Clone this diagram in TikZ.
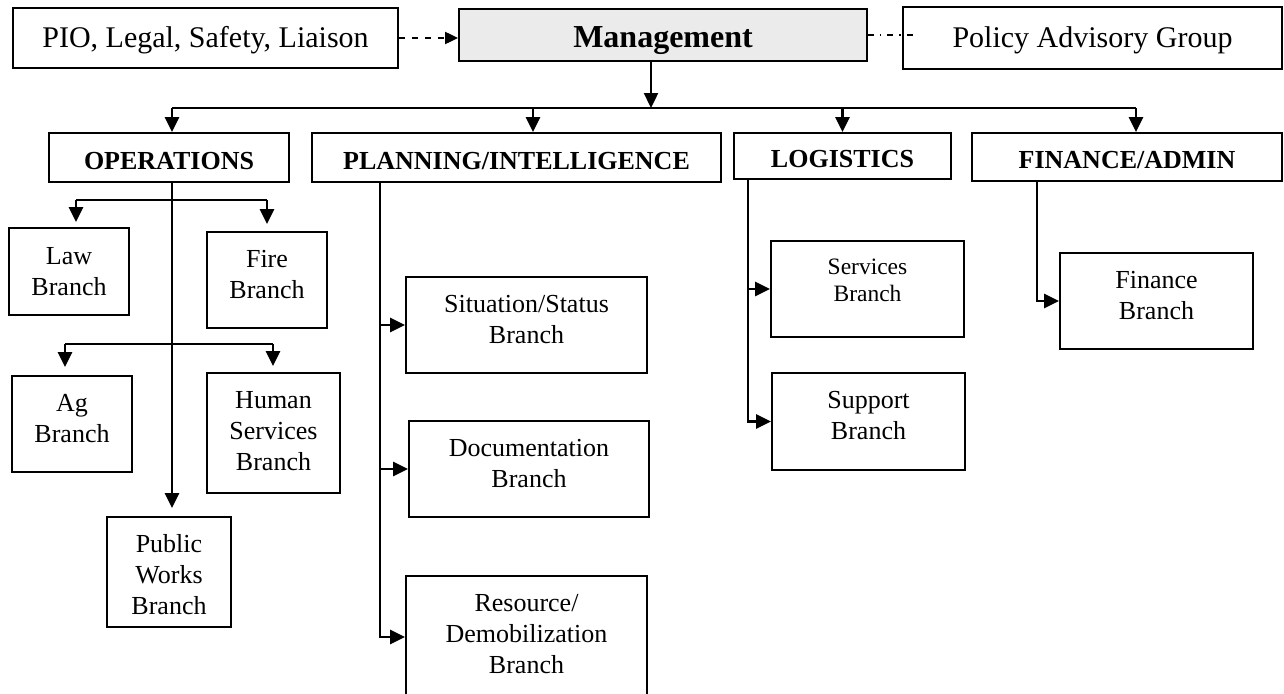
\documentclass[tikz,border=0pt]{standalone}
\usepackage{fontspec}
\setmainfont{Liberation Serif}
\usetikzlibrary{arrows.meta}
\tikzset{
  box/.style={draw, line width=1.8pt, inner sep=0pt, align=center, font=\fontsize{26}{31}\selectfont},
  headbox/.style={box, font=\fontsize{26}{31}\selectfont\bfseries, text height=23pt, text depth=0pt},
  topbox/.style={box, font=\fontsize{30}{34}\selectfont, text height=20pt, text depth=0pt},
  txt/.style={inner sep=0pt, align=center, font=\fontsize{26}{31}\selectfont},
  smalltxt/.style={txt, font=\fontsize{23.5}{27}\selectfont},
  conn/.style={line width=2.4pt},
  arr/.style={conn, -{Triangle[width=14pt,length=15pt]}},
  dasharr/.style={line width=2pt, dash pattern=on 6pt off 7pt, -{Triangle[width=12pt,length=13pt]}},
  dashdot/.style={line width=1.2pt, dash pattern=on 6pt off 6pt on 1.5pt off 6pt},
}
\begin{document}
\begin{tikzpicture}[x=1pt,y=-1pt]
\useasboundingbox (0,0) rectangle (1284,693);
\clip (0,0) rectangle (1284,693);
% top row
\node[topbox, minimum width=385pt, minimum height=60pt] (pio) at (205.5,38) {PIO, Legal, Safety, Liaison};
\node[box, fill=black!8, minimum width=408pt, minimum height=52pt, font=\fontsize{32}{36}\selectfont\bfseries, text height=26pt, text depth=0pt] (mgmt) at (663,35) {Management};
\node[topbox, minimum width=379pt, minimum height=62pt] (pol) at (1092.5,38) {Policy Advisory Group};
% section heads
\node[headbox, minimum width=240pt, minimum height=49pt] (ops) at (169,157.5) {OPERATIONS};
\node[headbox, minimum width=409pt, minimum height=49pt] (plan) at (516.5,157.5) {PLANNING/INTELLIGENCE};
\node[headbox, minimum width=217pt, minimum height=46pt] (log) at (842.5,156) {LOGISTICS};
\node[headbox, minimum width=310pt, minimum height=48pt] (fin) at (1127,157) {FINANCE/ADMIN};
% operations branches
\node[box, minimum width=120pt, minimum height=87pt] (law) at (69,271.5) {};
\node[box, minimum width=120pt, minimum height=96pt] (fire) at (267,280) {};
\node[box, minimum width=120pt, minimum height=96pt] (ag) at (72,424) {};
\node[box, minimum width=133pt, minimum height=120pt] (hum) at (273.5,433) {};
\node[box, minimum width=124pt, minimum height=110pt] (pw) at (169,572) {};
% planning branches
\node[box, minimum width=241pt, minimum height=96pt] (sit) at (526.5,325) {};
\node[box, minimum width=240pt, minimum height=96pt] (doc) at (529,469) {};
\node[box, minimum width=241pt, minimum height=122pt] (res) at (526.5,637) {};
% logistics branches
\node[box, minimum width=193pt, minimum height=96pt] (serv) at (867.5,289) {};
\node[box, minimum width=193pt, minimum height=97pt] (sup) at (868.5,421.5) {};
% finance branch
\node[box, minimum width=193pt, minimum height=96pt] (finb) at (1156.5,301) {};

% box texts
\node[txt] (law-t) at (law.center) {Law\\Branch};
\node[txt] (fire-t) at ([yshift=5pt]fire.center) {Fire\\Branch};
\node[txt] (ag-t) at ([yshift=5pt]ag.center) {Ag\\Branch};
\node[txt] (hum-t) at ([yshift=2pt]hum.center) {Human\\Services\\Branch};
\node[txt] (pw-t) at ([yshift=-3pt]pw.center) {Public\\Works\\Branch};
\node[txt] (sit-t) at ([yshift=5pt]sit.center) {Situation/Status\\Branch};
\node[txt] (doc-t) at ([yshift=5pt]doc.center) {Documentation\\Branch};
\node[txt] (res-t) at ([yshift=3pt]res.center) {Resource/\\Demobilization\\Branch};
\node[smalltxt] (serv-t) at ([yshift=9pt]serv.center) {Services\\Branch};
\node[txt] (sup-t) at ([yshift=6pt]sup.center) {Support\\Branch};
\node[txt] (finb-t) at ([yshift=5pt]finb.center) {Finance\\Branch};

% top connectors
\draw[dasharr] (pio.east) -- (pio.east -| mgmt.west);
\draw[dashdot] (mgmt.east) -- ([xshift=14pt]mgmt.east -| pol.west);
\coordinate (bus) at (651,108);
\coordinate (busL) at (172,108);
\coordinate (busR) at (1136,108);
\coordinate (busP) at (533,108);
\draw[arr] (mgmt.south -| bus) -- (bus);
\draw[conn] (busL) -- (busR);
\draw[arr] (busL) -- (busL |- ops.north);
\draw[arr] (busP) -- (busP |- plan.north);
\draw[arr] (log.north |- bus) -- (log.north);
\draw[arr] (busR) -- (busR |- fin.north);

% operations
\coordinate (opx) at (172,182);
\draw[arr, shorten >=8pt] (opx) -- (opx |- pw.north);
\coordinate (s1l) at (76,200);
\coordinate (s1r) at (267,200);
\draw[conn] (s1l) -- (s1r);
\draw[arr, shorten >=5pt] (s1l) -- (s1l |- law.north);
\draw[arr, shorten >=7pt] (s1r) -- (s1r |- fire.north);
\coordinate (s2l) at (65,344);
\coordinate (s2r) at (273,344);
\draw[conn] (s2l) -- (s2r);
\draw[arr, shorten >=8pt] (s2l) -- (s2l |- ag.north);
\draw[arr, shorten >=6pt] (s2r) -- (s2r |- hum.north);

% planning
\coordinate (plx) at (380,182);
\draw[arr] (plx) |- (res.west);
\draw[arr] (sit.west -| plx) -- (sit.west);
\draw[arr] (doc.west -| plx) -- (doc.west);

% logistics
\coordinate (lgx) at (748,179);
\draw[arr] (lgx) |- (sup.west);
\draw[arr] (serv.west -| lgx) -- (serv.west);

% finance
\coordinate (fnx) at (1037,181);
\draw[arr] (fnx) |- (finb.west);
\end{tikzpicture}
\end{document}
